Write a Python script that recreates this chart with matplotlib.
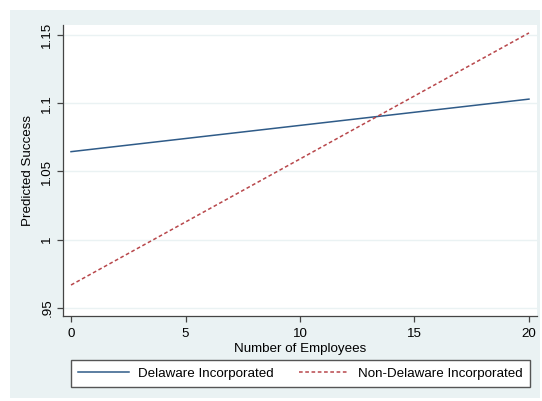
import matplotlib.pyplot as plt
from matplotlib.patches import Rectangle

plt.rcParams['font.family'] = ['Liberation Sans', 'DejaVu Sans']

# predicted success at the ends of the employee range
employees = [0, 20]
delaware = [1.0645, 1.103]
non_delaware = [0.9668, 1.1515]

yticks = [0.95, 1.0, 1.05, 1.1, 1.15]
ytick_labels = ['.95', '1', '1.05', '1.1', '1.15']
xticks = [0, 5, 10, 15, 20]

bg = '#eaf2f3'
navy = '#2f5b88'
maroon = '#b8474b'
fs = 9.6

W, H = 542, 401
fig = plt.figure(figsize=(W / 100, H / 100), dpi=100)
fig.patch.set_facecolor('white')
fig.patches.append(Rectangle((10 / W, 3 / H), 530 / W, 388 / H,
                             transform=fig.transFigure, facecolor=bg,
                             edgecolor='none', zorder=-10))

ax = fig.add_axes([63 / W, (H - 316) / H, (537 - 63) / W, (316 - 25) / H])
ax.set_facecolor('white')

ax.plot(employees, delaware, color=navy, lw=1.1, label='Delaware Incorporated')
ax.plot(employees, non_delaware, color=maroon, lw=1.1, linestyle=(0, (2.4, 1.7)),
        label='Non-Delaware Incorporated')

ax.set_xlim(-0.35, 20.35)
ax.set_ylim(0.9441, 1.1573)
ax.set_yticks(yticks)
ax.set_yticklabels(ytick_labels, rotation=90, va='center')
ax.set_xticks(xticks)
ax.grid(axis='y', color=bg, lw=1.0)
ax.set_axisbelow(True)

for side in ['top', 'right']:
    ax.spines[side].set_visible(False)
for side in ['left', 'bottom']:
    ax.spines[side].set_color('#444444')
    ax.spines[side].set_linewidth(0.9)
ax.tick_params(direction='out', length=4, width=0.9, color='#444444',
               labelsize=fs, labelcolor='black')
ax.tick_params(axis='x', pad=4.5)
ax.tick_params(axis='y', pad=3)

ax.set_xlabel('Number of Employees', fontsize=fs, labelpad=2)
ax.set_ylabel('Predicted Success', fontsize=fs, labelpad=5)

fig.legend(loc='center', bbox_to_anchor=(300.5 / W, (H - 373.5) / H),
           ncol=2, fontsize=fs, frameon=True, fancybox=False,
           edgecolor='#555555', framealpha=1, borderaxespad=0,
           handlelength=3.8, handletextpad=0.65, columnspacing=1.9,
           borderpad=0.55)

fig.savefig('out.png', dpi=100)
